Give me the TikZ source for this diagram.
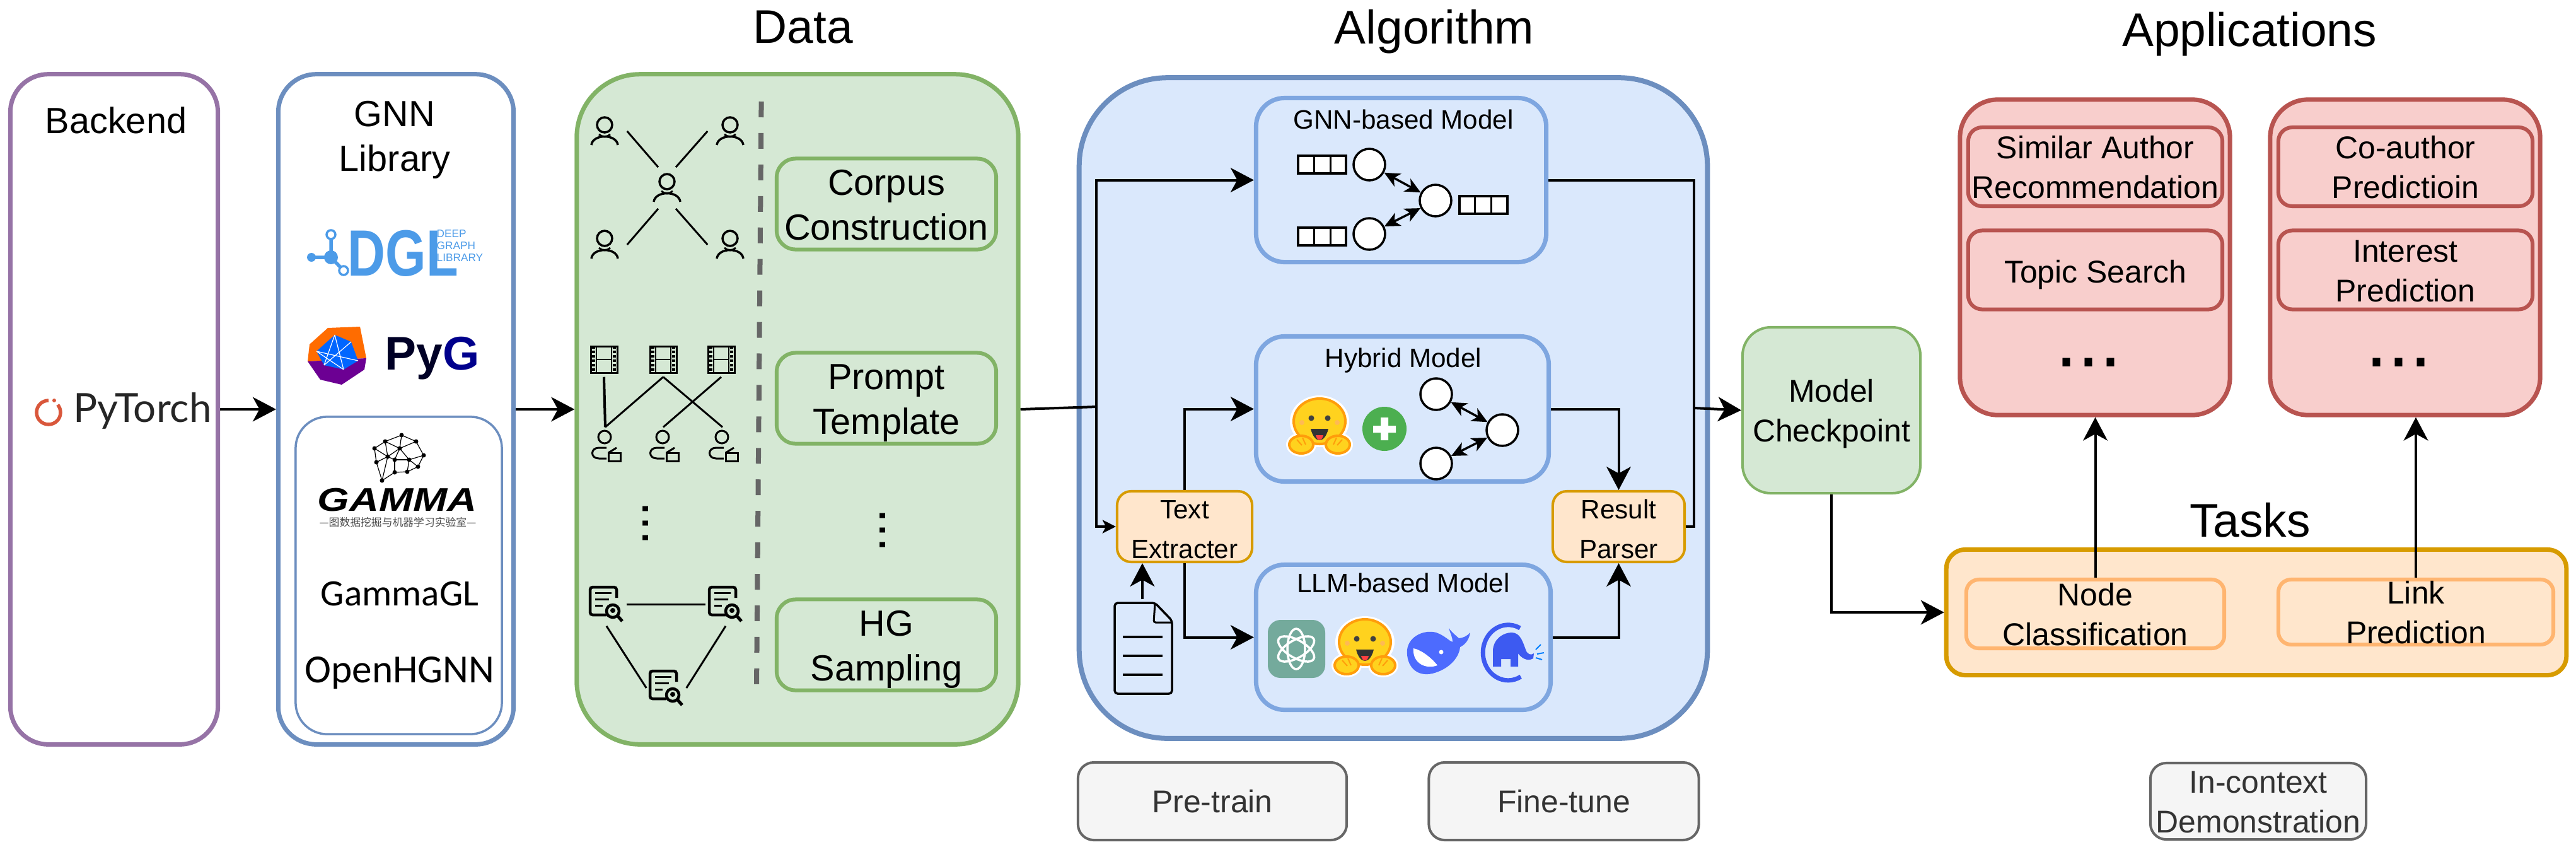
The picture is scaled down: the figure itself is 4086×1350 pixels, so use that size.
\documentclass[tikz,border=0pt]{standalone}
\usepackage{fontspec}
\setmainfont{Liberation Sans}
\newfontfamily\cjkfont{Noto Sans CJK SC}
\newfontfamily\handfont{Carlito}
\newfontfamily\torchfont{Lato}
\usetikzlibrary{arrows.meta}
\definecolor{purpleline}{HTML}{9673A6}
\definecolor{blueline}{HTML}{6C8EBF}
\definecolor{bluefill}{HTML}{DAE8FC}
\definecolor{modelline}{HTML}{7EA6E0}
\definecolor{greenline}{HTML}{82B366}
\definecolor{greenfill}{HTML}{D5E8D4}
\definecolor{orangeline}{HTML}{D79B00}
\definecolor{orangefill}{HTML}{FFE6CC}
\definecolor{taskline}{HTML}{FFB570}
\definecolor{redline}{HTML}{B85450}
\definecolor{redfill}{HTML}{F8CECC}
\definecolor{greyline}{HTML}{666666}
\definecolor{greyfill}{HTML}{F5F5F5}
\definecolor{dglblue}{HTML}{4C9BE8}
\definecolor{torchred}{HTML}{D9573B}
\definecolor{hugyellow}{HTML}{FFD21E}
\definecolor{hugorange}{HTML}{FF9D0B}
\definecolor{whaleblue}{HTML}{4D6BFE}
\definecolor{llamablue}{HTML}{3D5AF1}
\definecolor{gptgreen}{HTML}{74AA9C}
\definecolor{plusgreen}{HTML}{4CAF50}
\newcommand\twolines[2]{\rule{0pt}{0.8\baselineskip}#1\\\rule[-0.2\baselineskip]{0pt}{0.2\baselineskip}#2}
\tikzset{
  boxsize/.style 2 args={minimum width=#1cm,minimum height=#2cm,inner sep=0pt,inner ysep=-0.2cm},
  titlefont/.style={font=\fontsize{21.3}{26}\selectfont,anchor=base},
  largefont/.style={font=\fontsize{16.4}{20.2}\selectfont},
  midfont/.style={font=\fontsize{14.2}{17.9}\selectfont},
  smallfont/.style={font=\fontsize{12}{17.9}\selectfont},
  outerbox/.style={draw,line width=0.07cm,rounded corners=0.6cm,align=center},
  databox/.style={draw=greenline,fill=greenfill,line width=0.06cm,rounded corners=0.3cm,largefont,align=center,boxsize={3.48}{1.44}},
  modelbox/.style={draw=modelline,fill=bluefill,line width=0.07cm,rounded corners=0.45cm},
  toolbox/.style={draw=orangeline,fill=orangefill,line width=0.04cm,rounded corners=0.22cm,smallfont,align=center},
  appbox/.style={draw=redline,fill=redfill,line width=0.07cm,rounded corners=0.6cm},
  appitem/.style={draw=redline,fill=redfill,line width=0.06cm,rounded corners=0.22cm,midfont,align=center,boxsize={4.03}{1.25}},
  taskitem/.style={draw=taskline,fill=orangefill,line width=0.06cm,rounded corners=0.2cm,midfont,align=center},
  greybox/.style={draw=greyline,fill=greyfill,text=black!80,line width=0.04cm,rounded corners=0.25cm,midfont,align=center},
  gcircle/.style={draw,circle,fill=white,line width=0.035cm,minimum size=0.5cm,inner sep=0pt},
  spot/.style={circle,minimum size=0.7cm,inner sep=0pt},
  arrow/.style={-{Stealth[length=10.5pt,width=11pt,inset=3pt]},line width=0.04cm},
  thinarrow/.style={-{Stealth[length=6pt,width=6pt,inset=1.5pt]},line width=0.04cm},
  bothways/.style={{Stealth[length=7pt,width=6.5pt,inset=2pt]}-{Stealth[length=7pt,width=6.5pt,inset=2pt]},line width=0.035cm},
  link/.style={line width=0.03cm},
  person/.pic={
    \draw[line width=0.035cm] (0,-10) circle[radius=12];
    \draw[line width=0.035cm] (-21,22) .. controls (-19,4) and (19,4) .. (21,22);
    \draw[line width=0.03cm] (-9,5) .. controls (-4,10) and (4,10) .. (9,5);
  },
  film/.pic={
    \draw[line width=0.03cm] (-21,-21) rectangle (21,21);
    \draw[line width=0.025cm] (-12,-21) -- (-12,21) (12,-21) -- (12,21) (-12,0) -- (12,0);
    \draw[line width=0.05cm,dash pattern=on 1.2pt off 0.8pt] (-16.5,-21) -- (-16.5,21) (16.5,-21) -- (16.5,21);
  },
  director/.pic={
    \draw[line width=0.03cm] (-1,-14) circle[radius=10];
    \draw[line width=0.03cm] (2,3) -- (-10,3) .. controls (-24,3) and (-24,20) .. (-10,20) -- (2,20);
    \draw[line width=0.03cm] (5,11) rectangle (24,24);
    \draw[line width=0.03cm] (5,11) -- (18,3);
  },
  paper/.pic={
    \draw[line width=0.045cm,rounded corners=0.04cm] (16,-10) -- (16,-27) -- (-26,-27) -- (-26,17) -- (0,17);
    \draw[line width=0.03cm] (-18,-18) -- (8,-18) (-18,-8) -- (4,-8) (-18,2) -- (-6,2);
    \draw[line width=0.045cm,fill=greenfill] (10,11) circle[radius=10];
    \fill (10,10) circle[radius=4];
    \draw[line width=0.05cm] (18,19) -- (25,27);
  },
  cells/.pic={
    \draw[fill=white,line width=0.04cm] (-38,-14) rectangle (38,14);
    \draw[line width=0.03cm] (-13,-14) -- (-13,14) (13,-14) -- (13,14);
  },
  hugface/.pic={
    \fill[white] (0,-10) circle[x radius=47,y radius=41];
    \fill[white] (-29,27) circle[x radius=24,y radius=19] (29,27) circle[x radius=24,y radius=19];
    \draw[hugorange,fill=hugyellow,line width=0.04cm] (0,-10) circle[x radius=41,y radius=36];
    \fill[hugorange!70] (-28,-8) circle[radius=4] (28,-8) circle[radius=4];
    \fill[black!75] (-13,-15) circle[radius=4.5] (13,-15) circle[radius=4.5];
    \fill[black!80] (-14,2) .. controls (-8,26) and (8,26) .. (14,2) -- cycle;
    \fill[red!75] (-6,12) .. controls (-4,22) and (4,22) .. (6,12) -- cycle;
    \draw[hugorange,fill=hugyellow,line width=0.04cm] (-29,27) circle[x radius=19,y radius=14] (29,27) circle[x radius=19,y radius=14];
    \draw[hugorange,line width=0.02cm] (-36,19) -- (-28,28) (-27,16) -- (-22,27) (36,19) -- (28,28) (27,16) -- (22,27);
  }
}
\begin{document}
\begin{tikzpicture}[x=0.01cm,y=-0.01cm,line cap=butt]
  \useasboundingbox (0,0) rectangle (4086,1350);

  \node[titlefont] (datatitle) at (1274,68) {Data};
  \node[titlefont] (algotitle) at (2275,69) {Algorithm};
  \node[titlefont] (apptitle) at (3568,73) {Applications};
  \node[titlefont] (tasktitle) at (3569,851) {Tasks};

  \node[outerbox,draw=purpleline,boxsize={3.29}{10.62}] (backend) at (181,649) {};
  \node[outerbox,draw=blueline,boxsize={3.73}{10.62}] (library) at (628,649) {};
  \node[draw=blueline,line width=0.035cm,rounded corners=0.5cm,boxsize={3.27}{5.03}] (gammabox) at (632.5,912.5) {};
  \node[draw=greenline,fill=greenfill,line width=0.07cm,rounded corners=1cm,boxsize={7}{10.62}] (data) at (1265,649) {};
  \node[draw=blueline,fill=bluefill,line width=0.08cm,rounded corners=1.4cm,boxsize={9.96}{10.47}] (algo) at (2210,647) {};

  \node[largefont] (backendlabel) at (184,191) {Backend};
  \node[largefont,align=center] (librarylabel) at (626,214.5) {\twolines{GNN}{Library}};

  \draw[torchred,line width=0.055cm] (77,635) arc[start angle=-90,end angle=-400,radius=19];
  \fill[torchred] (86,635) circle[radius=3];
  \node[text=black!85,font=\torchfont\fontsize{18.1}{20}\selectfont] (pytorch) at (226,651) {PyTorch};

  \node[text=dglblue,anchor=base west,inner sep=0pt,font=\bfseries\fontsize{29.5}{30}\selectfont] (dgl) at (551,437) {\scalebox{.8}[1]{DGL}};
  \node[text=dglblue,anchor=north west,inner sep=0pt,align=left,font=\fontsize{4.9}{5.4}\selectfont] (dglsub) at (692,364) {DEEP\\GRAPH\\LIBRARY};
  \draw[dglblue,line width=0.055cm] (494,408) -- (525,408) -- (525,372) (525,408) -- (545,429);
  \fill[dglblue] (494,408) circle[radius=7] (525,408) circle[radius=11];
  \draw[dglblue,fill=white,line width=0.035cm] (525,372) circle[radius=7] (545,429) circle[radius=7];

  \fill[orange!85!red] (520,520) -- (571,518) -- (581,568) -- (488,573) -- (491,546) -- cycle;
  \fill[violet!85!blue] (488,573) -- (581,568) -- (578,586) -- (542,610) -- (508,602) -- cycle;
  \fill[blue!60!cyan] (502,557) -- (531,531) -- (557,542) -- (568,572) -- (545,586) -- (514,579) -- cycle;
  \draw[white,line width=0.012cm] (502,557) -- (545,586) (531,531) -- (514,579) (531,531) -- (545,586) (557,542) -- (514,579) (502,557) -- (568,572);
  \node[anchor=base west,inner sep=0pt,text=black!85!blue,font=\bfseries\fontsize{21.3}{26}\selectfont] (pyg) at (610,586) {Py\textcolor{blue!55!black}{G}};

  \foreach \n/\x/\y in {a/594/711,b/611/700,c/637/690,d/660/700,e/672/722,f/663/740,g/646/748,h/626/749,i/606/762,j/597/733,k/615/724,l/634/711,m/649/729,n/626/729} {
    \coordinate (\n) at (\x,\y);
    \fill (\n) circle[radius=3.5];
  }
  \foreach \s/\t in {a/b,b/c,c/d,d/e,e/f,f/g,g/h,h/i,i/j,j/a,k/l,l/m,m/n,n/k,k/a,k/b,l/b,l/c,l/d,m/e,m/f,m/g,n/h,k/j,k/i,l/n} {
    \draw[line width=0.012cm] (\s) -- (\t);
  }
  \node[font=\bfseries\itshape\fontsize{14.8}{16}\selectfont] (gamma) at (630,793) {\scalebox{1.25}[1]{GAMMA}};
  \node[text=black!70,font=\cjkfont\fontsize{4.78}{6}\selectfont] (gammasub) at (631,828) {—图数据挖掘与机器学习实验室—};
  \node[font=\handfont\fontsize{16.8}{20}\selectfont] (gammagl) at (634,942) {GammaGL};
  \node[font=\handfont\fontsize{18}{20}\selectfont] (openhgnn) at (634,1067) {OpenHGNN};

  \foreach \n/\x/\y in {p0/1058/298,p1/959/208,p2/1158/208,p3/959/388,p4/1158/388} {
    \node[spot] (\n) at (\x,\y) {};
    \pic at (\n) {person};
  }
  \draw[link] (p1.east) -- (p0.113);
  \draw[link] (p2.west) -- (p0.67);
  \draw[link] (p3.east) -- (p0.-113);
  \draw[link] (p4.west) -- (p0.-67);

  \foreach \i/\x in {1/958,2/1052,3/1144} {
    \node[boxsize={0.54}{0.54}] (f\i) at (\x,570) {};
    \pic at (f\i) {film};
  }
  \foreach \i/\x in {1/960,2/1052,3/1146} {
    \node[boxsize={0.54}{0.58}] (d\i) at (\x,707) {};
    \pic at (d\i) {director};
  }
  \draw[line width=0.04cm] (f1.south) -- (d1.north);
  \draw[link] (f2.south) -- (d1.north);
  \draw[link] (f2.south) -- (d3.north);
  \draw[link] (f3.south) -- (d2.north);

  \node[rotate=90,inner sep=0pt,font=\fontsize{23.6}{26}\selectfont] (leftdots) at (1024,830) {...};

  \foreach \n/\x/\y in {s1/962/958,s2/1151/958,s3/1057/1091} {
    \node[boxsize={0.62}{0.68}] (\n) at (\x,\y) {};
    \pic at (\n) {paper};
  }
  \draw[link] (s1.east) -- (s2.west);
  \draw[link] (s1.south) -- (s3.west);
  \draw[link] (s2.south) -- (s3.east);

  \coordinate (dashtop) at (1207.6,161);
  \coordinate (dashbottom) at (1200,1092);
  \draw[greyline,line width=0.08cm,dash pattern=on 7.1pt off 7.1pt] (dashtop) -- (dashbottom);

  \node[databox] (corpus) at (1406,323.5) {\twolines{Corpus}{Construction}};
  \node[databox] (prompt) at (1406,631.5) {\twolines{Prompt}{Template}};
  \node[rotate=90,inner sep=0pt,font=\fontsize{23.6}{26}\selectfont] (rightdots) at (1400,841) {...};
  \node[databox] (hg) at (1406,1022.5) {\twolines{HG}{Sampling}};

  \node[modelbox,boxsize={4.6}{2.6}] (gnnmodel) at (2222.5,285.5) {};
  \node[modelbox,boxsize={4.64}{2.3}] (hybrid) at (2224.5,648.5) {};
  \node[modelbox,boxsize={4.67}{2.3}] (llm) at (2226,1010.5) {};
  \node[smallfont] (gnntitle) at (2226,189) {GNN-based Model};
  \node[smallfont] (hybridtitle) at (2226,572) {Hybrid Model};
  \node[smallfont] (llmtitle) at (2226,924) {LLM-based Model};

  \node[gcircle] (c1) at (2172,261) {};
  \node[gcircle] (c2) at (2277,318) {};
  \node[gcircle] (c3) at (2172,371) {};
  \pic at (2097,261) {cells};
  \pic at (2352.5,325) {cells};
  \pic at (2097,375) {cells};
  \draw[bothways] (c1) -- (c2);
  \draw[bothways] (c3) -- (c2);

  \pic at (2093,678) {hugface};
  \fill[plusgreen] (2196,680) circle[radius=35];
  \fill[white] (2178,675) rectangle (2214,686) (2190,662) rectangle (2202,698);
  \node[gcircle] (c4) at (2278,625) {};
  \node[gcircle] (c5) at (2383,682) {};
  \node[gcircle] (c6) at (2278,735) {};
  \draw[bothways] (c4) -- (c5);
  \draw[bothways] (c6) -- (c5);

  \fill[gptgreen,rounded corners=0.2cm] (2011,983) rectangle (2102,1075);
  \foreach \a in {30,90,150} {
    \draw[white,line width=0.035cm,rotate around={\a:(2056,1029)}] (2056,1029) circle[x radius=32,y radius=14];
  }
  \pic at (2165,1028) {hugface};
  \fill[whaleblue] (2232,1030) .. controls (2235,1008) and (2260,998) .. (2278,1003) .. controls (2292,1008) and (2298,1016) .. (2304,1018) .. controls (2304,1010) and (2300,1003) .. (2298,996) .. controls (2304,1004) and (2312,1010) .. (2314,1012) .. controls (2320,1012) and (2328,1008) .. (2332,1003) .. controls (2330,1015) and (2324,1022) .. (2316,1026) .. controls (2314,1045) and (2296,1062) .. (2272,1068) .. controls (2246,1074) and (2230,1055) .. (2232,1030) -- cycle;
  \fill[white] (2242,1028) .. controls (2252,1030) and (2268,1040) .. (2280,1055) .. controls (2262,1062) and (2240,1052) .. (2242,1028) -- cycle;
  \fill[white] (2286,1034) circle[radius=3.5];
  \draw[llamablue,line width=0.07cm] (2411,996) arc[x radius=40,y radius=44,start angle=-62,end angle=-300];
  \fill[llamablue] (2368,1057) -- (2368,1030) .. controls (2370,1012) and (2385,1003) .. (2398,1003) .. controls (2412,1003) and (2416,1020) .. (2420,1030) .. controls (2422,1037) and (2428,1040) .. (2433,1036) -- (2432,1044) .. controls (2422,1050) and (2412,1042) .. (2408,1036) -- (2408,1057) -- (2396,1057) -- (2396,1045) -- (2381,1045) -- (2381,1057) -- cycle;
  \draw[blue!50!cyan,line width=0.02cm] (2436,1030) -- (2444,1022) (2438,1037) -- (2449,1035) (2436,1043) -- (2446,1046);

  \node[toolbox,boxsize={2.14}{1.12}] (text) at (1879,835) {\twolines{Text}{Extracter}};
  \node[toolbox,boxsize={2.09}{1.12}] (result) at (2567.5,835) {\twolines{Result}{Parser}};

  \node[boxsize={0.95}{1.54}] (doc) at (1812,1028) {};
  \draw[line width=0.035cm,rounded corners=0.05cm] (1832,956) -- (1768,956) -- (1768,1100) -- (1859,1100) -- (1859,984) -- cycle;
  \draw[line width=0.03cm,rounded corners=0.03cm] (1832,956) -- (1830,987) -- (1859,987);
  \draw[line width=0.04cm] (1781,1010) -- (1844,1010) (1781,1040) -- (1844,1040) (1781,1070) -- (1844,1070);

  \node[draw=greenline,fill=greenfill,line width=0.04cm,rounded corners=0.45cm,midfont,align=center,boxsize={2.82}{2.63}] (ckpt) at (2905,650.5) {\twolines{Model}{Checkpoint}};

  \node[appbox,boxsize={4.28}{5}] (app1) at (3323,408) {};
  \node[appbox,boxsize={4.28}{5}] (app2) at (3815,408) {};
  \node[appitem] (similar) at (3323.5,264.5) {\twolines{Similar Author}{Recommendation}};
  \node[appitem] (topic) at (3323.5,428) {\rule{0pt}{0.8\baselineskip}Topic Search};
  \node[appitem] (coauthor) at (3815.5,264.5) {\twolines{Co-author}{Predictioin}};
  \node[appitem] (interest) at (3815.5,428) {\twolines{Interest}{Prediction}};
  \node[inner sep=0pt,font=\fontsize{35.8}{40}\selectfont] (dots1) at (3313,575) {...};
  \node[inner sep=0pt,font=\fontsize{35.8}{40}\selectfont] (dots2) at (3805,575) {...};

  \node[draw=orangeline,fill=orangefill,line width=0.07cm,rounded corners=0.3cm,boxsize={9.83}{1.99}] (tasks) at (3579,971) {};
  \node[taskitem,boxsize={4.09}{1.09}] (nodeclass) at (3323.5,973.5) {\twolines{Node}{Classification}};
  \node[taskitem,boxsize={4.36}{1.03}] (linkpred) at (3832,970.5) {\twolines{Link}{Prediction}};

  \node[greybox,boxsize={4.26}{1.23}] (pretrain) at (1923,1270.5) {Pre-train};
  \node[greybox,boxsize={4.28}{1.23}] (finetune) at (2480.5,1270.5) {Fine-tune};
  \node[greybox,boxsize={3.42}{1.21}] (demo) at (3582,1270.5) {\twolines{In-context}{Demonstration}};

  \coordinate (split) at (1739,645);
  \coordinate (merge) at (2687,647);
  \draw[arrow] (backend.east |- library.west) -- (library.west);
  \draw[arrow] (library.east) -- (data.west);
  \draw[line width=0.04cm] (data.east) -- (split);
  \draw[arrow] (split) |- (gnnmodel.west);
  \draw[thinarrow] (split) |- (text.west);
  \draw[arrow] (text.north) |- (hybrid.west);
  \draw[arrow] (text.south) |- (llm.west);
  \draw[arrow] (doc.north) -- (doc.north |- text.south);
  \draw[arrow] (hybrid.east) -| (result.north);
  \draw[arrow] (llm.east) -| (result.south);
  \draw[line width=0.04cm] (gnnmodel.east) -| (merge);
  \draw[line width=0.04cm] (result.east) -| (merge);
  \draw[arrow] (merge) -- (ckpt.west);
  \draw[arrow] (ckpt.south) |- (tasks.west);
  \draw[arrow] (nodeclass.north) -- (app1.south -| nodeclass.north);
  \draw[arrow] (linkpred.north) -- (app2.south -| linkpred.north);
\end{tikzpicture}
\end{document}
